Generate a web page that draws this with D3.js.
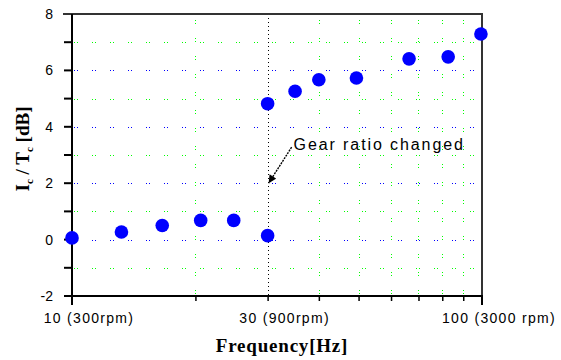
<!DOCTYPE html>
<html>
<head>
<meta charset="utf-8">
<script src="https://cdn.jsdelivr.net/npm/d3@7"></script>
<style>
  body { margin: 0; background: #fff; }
  svg { display: block; }
</style>
</head>
<body>
<div id="chart"></div>
<script>
// values
const lowHz = [10, 13.2, 16.6, 20.6, 24.8, 30];
const lowDb = [0.06, 0.27, 0.5, 0.68, 0.68, 0.14];
const highHz = [30, 35, 40, 49.4, 66.4, 82.7, 99.4];
const highDb = [4.82, 5.26, 5.67, 5.73, 6.41, 6.48, 7.29];

const xLabelValues = [10, 30, 100];
const xLabelTexts = ['10 (300rpm)', '30 (900rpm)', '100 (3000 rpm)'];
const xMinorTicks = [20, 30, 40, 50, 60, 70, 80, 90];
const xGreenGrid = [20, 40, 50, 60, 70, 80, 90];
const gearChangeHz = 30;
const yMajor = [-2, 0, 2, 4, 6, 8];
const yAllTicks = d3.range(-2, 9, 1);

const width = 561, height = 360;
const margin = { top: 14, right: 79, bottom: 64, left: 72 };

const svg = d3.select('#chart').append('svg')
    .attr('width', width)
    .attr('height', height);

const x = d3.scaleLog()
    .domain([10, 100])
    .range([margin.left, width - margin.right]);

const y = d3.scaleLinear()
    .domain([-2, 8])
    .range([height - margin.bottom, margin.top]);

const x0 = x(10), x1 = x(100), yTop = y(8), yBot = y(-2);

// -------- grid --------
const grid = svg.append('g').attr('shape-rendering', 'crispEdges');
grid.selectAll('line.h')
    .data(yAllTicks.filter(v => v > -2 && v < 8))
    .join('line')
    .attr('x1', x0 + 2).attr('x2', x1)
    .attr('y1', d => Math.round(y(d)) + 0.5)
    .attr('y2', d => Math.round(y(d)) + 0.5)
    .attr('stroke', d => d % 2 === 0 ? '#0000ff' : '#00ff00')
    .attr('stroke-width', 1)
    .attr('stroke-dasharray', '1,2,1,14');

grid.selectAll('line.v')
    .data(xGreenGrid)
    .join('line')
    .attr('x1', d => Math.round(x(d)) + 0.5)
    .attr('x2', d => Math.round(x(d)) + 0.5)
    .attr('y1', yTop + 6).attr('y2', yBot)
    .attr('stroke', '#00ff00')
    .attr('stroke-width', 1)
    .attr('stroke-dasharray', '1,2,1,14');

// gear change line
grid.append('line')
    .attr('x1', Math.round(x(gearChangeHz)) + 0.5)
    .attr('x2', Math.round(x(gearChangeHz)) + 0.5)
    .attr('y1', yTop + 4).attr('y2', yBot)
    .attr('stroke', '#000')
    .attr('stroke-width', 1.5)
    .attr('stroke-dasharray', '1,3');

// -------- axes --------
// y ticks at every unit, labels on the even ones
svg.append('g')
    .selectAll('line')
    .data(yAllTicks)
    .join('line')
    .attr('x1', x0 - 8).attr('x2', x0)
    .attr('y1', d => y(d)).attr('y2', d => y(d))
    .attr('stroke', '#000')
    .attr('stroke-width', 2);

svg.append('g')
    .selectAll('text')
    .data(yMajor)
    .join('text')
    .attr('x', x0 - 19)
    .attr('y', d => y(d))
    .attr('dy', '0.35em')
    .attr('text-anchor', 'end')
    .attr('font-family', 'Liberation Sans, Arial, sans-serif')
    .attr('font-size', 14)
    .attr('fill', '#000')
    .text(d => d);

const xAxis = svg.append('g')
    .attr('transform', `translate(0,${yBot})`)
    .call(d3.axisBottom(x).tickValues(xMinorTicks).tickSize(5).tickFormat(''));
xAxis.select('.domain').remove();
xAxis.selectAll('line').attr('stroke', '#000').attr('stroke-width', 1.5);

svg.append('g')
    .selectAll('line')
    .data([10, 100])
    .join('line')
    .attr('x1', d => x(d)).attr('x2', d => x(d))
    .attr('y1', yBot).attr('y2', yBot + 9)
    .attr('stroke', '#000').attr('stroke-width', 2);

svg.append('g')
    .selectAll('text')
    .data(xLabelValues)
    .join('text')
    .attr('x', d => x(d) + 17)
    .attr('y', yBot + 27)
    .attr('text-anchor', 'middle')
    .attr('font-family', 'Liberation Sans, Arial, sans-serif')
    .attr('font-size', 14)
    .attr('letter-spacing', 1.3)
    .attr('fill', '#000')
    .text((d, i) => xLabelTexts[i]);

// frame
svg.append('line').attr('x1', x0 - 9).attr('x2', x1 + 1)
    .attr('y1', yTop).attr('y2', yTop)
    .attr('stroke', '#333').attr('stroke-width', 2);
svg.append('line').attr('x1', x1).attr('x2', x1)
    .attr('y1', yTop).attr('y2', yBot)
    .attr('stroke', '#333').attr('stroke-width', 2);
svg.append('line').attr('x1', x0).attr('x2', x0)
    .attr('y1', yTop).attr('y2', yBot + 1)
    .attr('stroke', '#000').attr('stroke-width', 2);
svg.append('line').attr('x1', x0 - 1).attr('x2', x1 + 1)
    .attr('y1', yBot).attr('y2', yBot)
    .attr('stroke', '#000').attr('stroke-width', 2);

// -------- points --------
const points = [
    ...lowHz.map((f, i) => ({ f, v: lowDb[i] })),
    ...highHz.map((f, i) => ({ f, v: highDb[i] }))
];
svg.append('g')
    .selectAll('circle')
    .data(points)
    .join('circle')
    .attr('cx', d => x(d.f))
    .attr('cy', d => y(d.v))
    .attr('r', 6.8)
    .attr('fill', '#0000ff');

// -------- annotation --------
svg.append('defs').append('marker')
    .attr('id', 'arrow')
    .attr('viewBox', '0 0 10 10')
    .attr('refX', 10).attr('refY', 5)
    .attr('markerWidth', 10).attr('markerHeight', 8)
    .attr('markerUnits', 'userSpaceOnUse')
    .attr('orient', 'auto')
    .append('path')
    .attr('d', 'M0,0L10,5L0,10Z')
    .attr('fill', '#000');

const tipX = x(gearChangeHz), tipY = y(2);
svg.append('line')
    .attr('x1', tipX + 24).attr('y1', tipY - 36)
    .attr('x2', tipX + 1).attr('y2', tipY)
    .attr('stroke', '#000')
    .attr('stroke-width', 1.4)
    .attr('stroke-dasharray', '2,1')
    .attr('marker-end', 'url(#arrow)');

svg.append('text')
    .attr('x', tipX + 26)
    .attr('y', tipY - 33)
    .attr('font-family', 'Liberation Sans, Arial, sans-serif')
    .attr('font-size', 16)
    .attr('letter-spacing', 1.9)
    .attr('fill', '#000')
    .text('Gear ratio changed');

// -------- titles --------
svg.append('text')
    .attr('x', 282)
    .attr('y', 352)
    .attr('text-anchor', 'middle')
    .attr('font-family', 'Liberation Serif, Times New Roman, serif')
    .attr('font-weight', 'bold')
    .attr('font-size', 19)
    .attr('letter-spacing', 0.8)
    .attr('fill', '#000')
    .text('Frequency[Hz]');

const yTitle = svg.append('text')
    .attr('transform', 'translate(29,149) rotate(-90)')
    .attr('text-anchor', 'middle')
    .attr('font-family', 'Liberation Serif, Times New Roman, serif')
    .attr('font-weight', 'bold')
    .attr('font-size', 19)
    .attr('fill', '#000');
yTitle.append('tspan').text('I');
yTitle.append('tspan').attr('font-size', 11).attr('dy', 4).text('c');
yTitle.append('tspan').attr('dy', -4).text(' / T');
yTitle.append('tspan').attr('font-size', 11).attr('dy', 4).text('c');
yTitle.append('tspan').attr('dy', -4).text(' [dB]');
</script>
</body>
</html>
